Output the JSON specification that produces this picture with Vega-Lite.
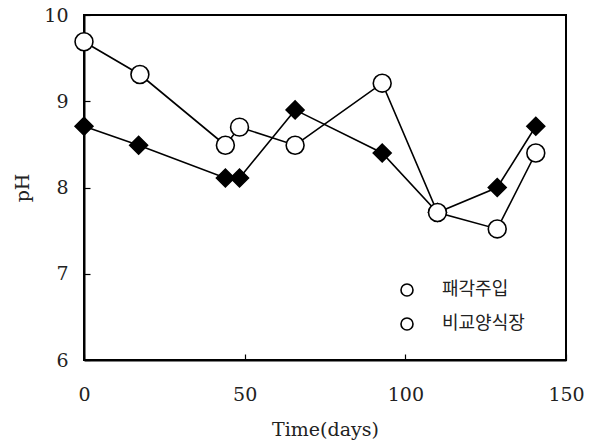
{
  "$schema": "https://vega.github.io/schema/vega-lite/v6.json",
  "autosize": {"type": "none"},
  "padding": {"left": 84, "top": 15, "right": 23, "bottom": 87},
  "width": 482,
  "height": 345,
  "background": "white",
  "config": {
    "view": {"stroke": "black", "strokeWidth": 2},
    "font": "DejaVu Serif",
    "axis": {
      "grid": false,
      "domainColor": "black",
      "domainWidth": 2,
      "tickColor": "black",
      "tickWidth": 1.2,
      "tickSize": -6,
      "labelFlush": false,
      "labelFont": "DejaVu Serif",
      "labelFontSize": 19,
      "labelColor": "#222",
      "titleFont": "DejaVu Serif",
      "titleFontSize": 19,
      "titleFontWeight": "normal",
      "titleColor": "#222"
    }
  },
  "data": {
    "values": [
      {"series": "패각주입", "time": 0, "pH": 8.71},
      {"series": "패각주입", "time": 17, "pH": 8.49},
      {"series": "패각주입", "time": 44, "pH": 8.11},
      {"series": "패각주입", "time": 48.4, "pH": 8.11},
      {"series": "패각주입", "time": 65.7, "pH": 8.9},
      {"series": "패각주입", "time": 92.8, "pH": 8.4},
      {"series": "패각주입", "time": 110, "pH": 7.71},
      {"series": "패각주입", "time": 128.6, "pH": 8.0},
      {"series": "패각주입", "time": 140.6, "pH": 8.71},
      {"series": "비교양식장", "time": 0, "pH": 9.69},
      {"series": "비교양식장", "time": 17.4, "pH": 9.31},
      {"series": "비교양식장", "time": 44, "pH": 8.49},
      {"series": "비교양식장", "time": 48.4, "pH": 8.7},
      {"series": "비교양식장", "time": 65.7, "pH": 8.49},
      {"series": "비교양식장", "time": 92.8, "pH": 9.21},
      {"series": "비교양식장", "time": 110, "pH": 7.71},
      {"series": "비교양식장", "time": 128.6, "pH": 7.52},
      {"series": "비교양식장", "time": 140.6, "pH": 8.4}
    ]
  },
  "encoding": {
    "x": {
      "field": "time", "type": "quantitative",
      "scale": {"domain": [0, 150], "nice": false, "zero": false},
      "axis": {"values": [0, 50, 100, 150], "title": "Time(days)", "labelPadding": 31, "titlePadding": 16}
    },
    "y": {
      "field": "pH", "type": "quantitative",
      "scale": {"domain": [6, 10], "nice": false, "zero": false},
      "axis": {"values": [6, 7, 8, 9, 10], "title": "pH", "labelPadding": 22, "titlePadding": 11}
    }
  },
  "layer": [
    {
      "mark": {"type": "line", "color": "black", "strokeWidth": 1.6},
      "encoding": {"detail": {"field": "series"}}
    },
    {
      "mark": {"type": "point", "stroke": "black", "opacity": 1, "size": 320},
      "encoding": {
        "shape": {"condition": {"test": "datum.series == '패각주입'", "value": "diamond"}, "value": "circle"},
        "fill": {"condition": {"test": "datum.series == '패각주입'", "value": "black"}, "value": "white"},
        "strokeWidth": {
          "field": "series", "type": "nominal",
          "scale": {"domain": ["패각주입", "비교양식장"], "range": [1.6, 1.6]},
          "legend": {
            "title": null,
            "orient": "none",
            "legendX": 314,
            "legendY": 266,
            "labelFont": "Noto Sans CJK KR",
            "labelFontSize": 18,
            "labelColor": "#222",
            "symbolSize": 144,
            "labelOffset": 26,
            "rowPadding": 14,
            "encode": {
              "symbols": {
                "shape": {"value": {"expr": "datum.value == '패각주입' ? 'M-4.6,0L4.6,0M-1.05,0L0,-1.05L1.05,0L0,1.05Z' : 'M-4.6,0L-1,0M1,0L4.6,0M1,0A1,1,0,1,1,-1,0A1,1,0,1,1,1,0Z'"}},
                "fill": {"value": {"expr": "datum.value == '패각주입' ? 'black' : 'white'"}},
                "stroke": {"value": "black"},
                "opacity": {"value": 1}
              }
            }
          }
        }
      }
    }
  ]
}
